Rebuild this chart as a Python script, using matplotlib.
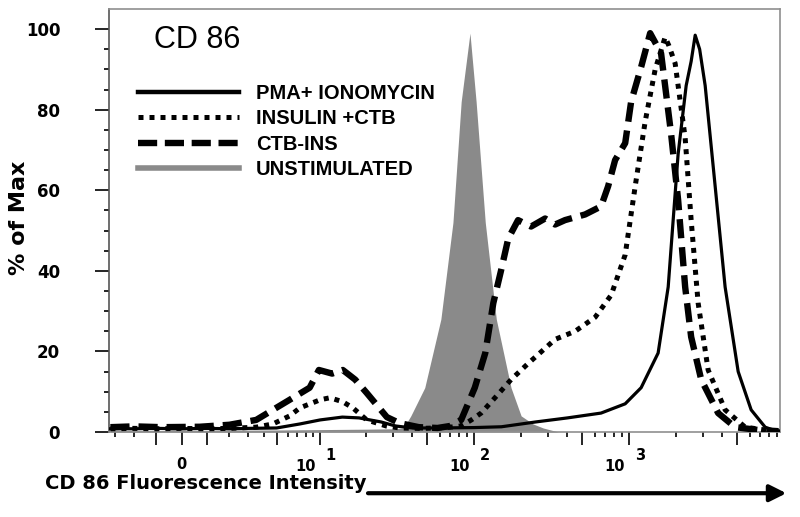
import numpy as np
import matplotlib.pyplot as plt
from matplotlib.lines import Line2D

plt.rcParams['font.family'] = ['Liberation Sans', 'DejaVu Sans']

# CD 86 fluorescence (x) vs % of max (y)
pma_x = [-3.3, -2, -1, 0, 1, 2, 3, 5, 7.3, 10, 14, 18, 25, 31, 40, 60, 100, 150, 250,
         400, 659, 943, 1195, 1538, 1786, 1923, 2070, 2333, 2512, 2667, 2850, 3093,
         3588, 4160, 5050, 6124, 7540, 8490, 9200]
pma_y = [0.8, 0.8, 0.9, 0.8, 0.9, 0.8, 0.9, 1.0, 2.0, 3.0, 3.7, 3.5, 2.5, 1.5, 1.0,
         1.0, 1.1, 1.3, 2.5, 3.5, 4.7, 7, 11, 19.6, 36, 52.6, 69, 86, 92, 98.5, 95,
         86, 61, 36, 15, 5.5, 1.2, 0.5, 0.3]

ins_x = [-3.3, -2, -1, 0, 1, 2, 3.5, 4.7, 6.2, 7.3, 10, 11.6, 14.1, 16.4, 20.2, 27,
         33, 45, 58, 70, 82.5, 96, 111, 140, 173, 223, 333, 448, 604, 766, 943, 1094,
         1268, 1472, 1706, 1800, 1980, 2298, 2512, 2787, 3233, 4160, 5600, 7880, 9200]
ins_y = [0.8, 0.9, 0.8, 0.9, 0.8, 0.9, 1.2, 2.0, 4.0, 6.0, 8.0, 8.5, 7.5, 6.0, 3.0,
         1.5, 1.0, 0.9, 1.0, 1.2, 1.5, 3.0, 4.7, 9, 13, 17, 23, 25, 28.5, 34, 44, 61,
         77, 90, 98, 96, 91.5, 73, 52.6, 32, 15.4, 5.5, 1.2, 0.4, 0.2]

ctb_x = [-3.3, -2, -0.8, 0.7, 2, 3.5, 4.7, 6.2, 8.5, 9.8, 12, 14.1, 17, 20.2, 27.3,
         33, 44, 58, 70, 82.5, 101, 118, 133, 149, 166, 192, 233, 287, 333, 386, 520,
         659, 732, 812, 943, 1030, 1195, 1366, 1607, 1865, 2070, 2298, 2512, 2917,
         3750, 4830, 6790, 9200]
ctb_y = [1.2, 1.4, 1.2, 1.3, 1.8, 3.0, 5.5, 8.0, 11, 15.4, 14.5, 15.4, 13, 9.7, 3.7,
         2.2, 1.2, 1.0, 1.5, 3.0, 11, 19.6, 32, 40, 48, 52.6, 51, 53, 51.5, 52.6, 54,
         56, 61, 67.5, 71.7, 82, 90.6, 99, 94, 74, 57.6, 36, 23.6, 13, 4.7, 1.2, 0.5,
         0.2]

uns_x = [-3.3, 0, 5, 10, 20, 30, 35, 39, 48, 61, 73, 82.5, 94, 103, 118, 139, 173,
         201, 240, 279, 350]
uns_y = [0.3, 0.4, 0.5, 0.6, 0.7, 0.8, 1.0, 4, 11, 28, 52, 82, 99, 82, 52, 28, 11,
         4, 2, 1, 0]

labels = ['PMA+ IONOMYCIN', 'INSULIN +CTB', 'CTB-INS', 'UNSTIMULATED']
decades = [10, 100, 1000]
exponents = ['1', '2', '3']

heavy = dict(family='DejaVu Sans', fontweight='bold')

fig = plt.figure(figsize=(8, 5.17), dpi=100)
ax = fig.add_axes([0.136, 0.1644, 0.839, 0.8182])

ax.fill_between(uns_x, uns_y, color='#8a8a8a', lw=0, zorder=1)
ax.plot(pma_x, pma_y, color='black', lw=2.3, zorder=3)
ax.plot(ins_x, ins_y, color='black', lw=3.6, linestyle=(0, (1, 1.2)),
        dash_capstyle='butt', zorder=3)
ax.plot(ctb_x, ctb_y, color='black', lw=4.6, linestyle=(0, (3, 1.4)),
        dash_capstyle='butt', zorder=3)

ax.set_xscale('asinh', linear_width=2.6)
ax.set_xlim(-3.4, 9400)
ax.set_ylim(0, 105)

ax.set_xticks([-1, 0, 1, 5, 10, 50, 100, 500, 1000, 5000])
ax.set_xticklabels(['', '0', '', '', '', '', '', '', '', ''], fontsize=10.5, **heavy)
minor = [-3, -2, 2, 3, 4, 6, 7, 8, 9] + \
        [m * 10 ** k for k in (1, 2, 3) for m in (2, 3, 4, 6, 7, 8, 9)]
ax.set_xticks(minor, minor=True)
for v, e in zip(decades, exponents):
    ax.annotate('10', xy=(v, 0), xycoords=ax.get_xaxis_transform(),
                xytext=(-3, -24.5), textcoords='offset points', ha='right',
                va='center', fontsize=10.5, **heavy)
    ax.annotate(e, xy=(v, 0), xycoords=ax.get_xaxis_transform(),
                xytext=(4, -17), textcoords='offset points', ha='left',
                va='center', fontsize=10.5, **heavy)

ax.set_yticks([0, 20, 40, 60, 80, 100])
ax.set_yticklabels(['0', '20', '40', '60', '80', '100'], fontsize=12, **heavy)
ax.set_yticks(np.arange(0, 101, 5), minor=True)

ax.tick_params(axis='y', which='major', direction='out', length=10, width=1.2, pad=25)
ax.tick_params(axis='y', which='minor', direction='out', length=3.5, width=1.2)
ax.tick_params(axis='x', which='major', direction='out', length=9, width=1.2, pad=9)
ax.tick_params(axis='x', which='minor', direction='out', length=3.5, width=1.2)

for s in ax.spines.values():
    s.set_color('#8f8f8f')
    s.set_linewidth(1.2)
ax.spines['left'].set_color('#555555')

ax.text(0.068, 0.962, 'CD 86', transform=ax.transAxes, fontsize=22,
        ha='left', va='top')

handles = [
    Line2D([], [], color='black', lw=3.2),
    Line2D([], [], color='black', lw=3.6, linestyle=(0, (1, 1.2)), dash_capstyle='butt'),
    Line2D([], [], color='black', lw=4.6, linestyle=(0, (3, 1.2)), dash_capstyle='butt'),
    Line2D([], [], color='#8a8a8a', lw=4),
]
leg = ax.legend(handles, labels, loc='upper left', bbox_to_anchor=(0.044, 0.823),
                frameon=False, borderpad=0, borderaxespad=0, handlelength=5.0,
                handletextpad=0.85, labelspacing=0.32,
                prop={'size': 14.5, 'weight': 'bold'})

fig.text(0.024, 0.578, '% of Max', rotation=90, fontsize=16, ha='center',
         va='center', **heavy)
fig.text(0.056, 0.054, 'CD 86 Fluorescence Intensity', fontsize=14,
         ha='left', va='baseline', **heavy)
ax.annotate('', xy=(0.983, 0.046), xytext=(0.46, 0.046),
            xycoords='figure fraction', textcoords='figure fraction',
            arrowprops=dict(arrowstyle='-|>', lw=3, color='black',
                            mutation_scale=25, shrinkA=0, shrinkB=0))

fig.savefig('out.png', dpi=100)
